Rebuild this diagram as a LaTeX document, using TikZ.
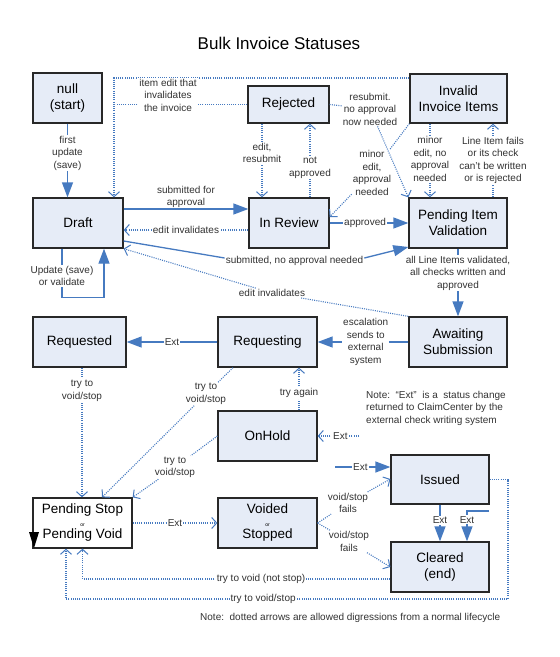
\documentclass[tikz,border=0pt]{standalone}
\usepackage{fontspec}
\setmainfont{Liberation Sans}
\usetikzlibrary{arrows.meta}
\definecolor{boxfill}{RGB}{230,236,247}
\definecolor{boxline}{RGB}{40,40,40}
\definecolor{flow}{RGB}{70,122,192}
\definecolor{lbltext}{RGB}{50,50,50}
\begin{document}
\begin{tikzpicture}[x=1pt,y=-1pt,
  state/.style={draw=boxline, fill=boxfill, line width=1.3pt, inner sep=0pt, align=center, font=\fontsize{13.5}{16}\selectfont},
  lbl/.style={font=\fontsize{10}{12.5}\selectfont, text=lbltext, align=center, inner sep=1pt, fill=white},
  solidarrow/.style={draw=flow, line width=1.3pt, -{Triangle[length=15pt,width=11pt]}},
  dotarrow/.style={draw=flow, line width=1.1pt, dash pattern=on 1pt off 1.2pt, -{Straight Barb[length=5pt,width=11pt,line width=1pt]}},
  dotline/.style={draw=flow, line width=1.1pt, dash pattern=on 1pt off 1.2pt},
]
\useasboundingbox (0,0) rectangle (560,657);

\node[font=\fontsize{17}{20}\selectfont] (title) at (279,43) {Bulk Invoice Statuses};

% states
\node[state, minimum width=69pt, minimum height=50pt] (null) at (67.5,98) {null\\(start)};
\node[state, minimum width=90pt, minimum height=50pt] (draft) at (78,223) {Draft};
\node[state, minimum width=81pt, minimum height=37pt] (rejected) at (288.5,104.5) {Rejected};
\node[state, minimum width=97pt, minimum height=49pt] (invalid) at (458.5,98.5) {Invalid\\Invoice Items};
\node[state, minimum width=80pt, minimum height=50pt] (review) at (289,223) {In Review};
\node[state, minimum width=98pt, minimum height=50pt] (piv) at (458,223) {Pending Item\\Validation};
\node[state, minimum width=98pt, minimum height=50pt] (await) at (458,342) {Awaiting\\Submission};
\node[state, minimum width=99pt, minimum height=50pt] (requesting) at (267.5,342) {Requesting};
\node[state, minimum width=93pt, minimum height=50pt] (requested) at (79.5,342) {Requested};
\node[state, minimum width=99pt, minimum height=50pt] (onhold) at (267.5,436) {OnHold};
\node[state, fill=white, minimum width=99pt, minimum height=50pt, font=\fontsize{13.5}{12.5}\selectfont] (pstop) at (82.5,523) {Pending Stop\\{\fontsize{5}{6}\selectfont or}\\Pending Void};
\node[state, minimum width=99pt, minimum height=50pt, font=\fontsize{13.5}{12.5}\selectfont] (voided) at (267.5,523) {Voided\\{\fontsize{5}{6}\selectfont or}\\Stopped};
\node[state, minimum width=98pt, minimum height=49pt] (issued) at (440,479.5) {Issued};
\node[state, minimum width=98pt, minimum height=50pt] (cleared) at (440,567) {Cleared\\(end)};

\fill[black] (29,532) -- (39,532) -- (34,548) -- cycle;

% waypoint labels
\node[lbl] (lblrs) at (370,109) {resubmit.\\no approval\\now needed};
\node[lbl] (lblme) at (372,173) {minor\\edit,\\approval\\needed};
\node[lbl] (lblsn) at (294.5,261) {submitted, no approval needed};
\node[lbl] (lblei) at (272,293) {edit invalidates};
\node[lbl] (lblr2) at (206,394) {try to\\void/stop};
\node[lbl] (lblo2) at (175,467.5) {try to\\void/stop};
\node[lbl] (lblv1) at (348,503) {void/stop\\fails};
\node[lbl] (lblv2) at (349,541.5) {void/stop\\fails};

% coordinates
\coordinate (ie) at ([xshift=36pt]draft.north);
\coordinate (a1) at ([xshift=-26.5pt]rejected.south);
\coordinate (a2) at ([xshift=21pt]review.north);
\coordinate (a3) at ([xshift=-28.5pt]invalid.south);
\coordinate (a4) at ([xshift=35pt]piv.north);
\coordinate (a5) at ([yshift=14pt]draft.east);
\coordinate (a6) at ([yshift=-7pt]review.west);
\coordinate (a7) at ([xshift=2.5pt]requested.south);
\coordinate (a8) at ([xshift=31.5pt]onhold.north);
\coordinate (revin) at ([yshift=6pt]review.east);
\coordinate (e1) at (359,436);
\coordinate (e2) at (335,467);
\coordinate (e3) at (489,511);
\coordinate (c1) at (508,599);
\coordinate (c2) at ([xshift=-16.5pt]pstop.south);

% solid connectors
\draw[solidarrow] (null.south) -- node[lbl,pos=0.4]{first\\update\\(save)} (null.south |- draft.north);
\draw[solidarrow] (a5) -- node[lbl,fill=none,above,inner sep=0.5pt]{submitted for\\approval} (a5 -| review.west);
\draw[solidarrow] ([yshift=-18pt]draft.east) -- ([yshift=3pt]lblsn.west) ([yshift=3pt]lblsn.east) -- ([yshift=-24pt]piv.west);
\draw[solidarrow] (review.east) -- node[lbl,pos=0.45]{approved} (piv.west);
\draw[solidarrow] (piv.south) -- node[lbl,pos=0.36]{all Line Items validated,\\all checks written and\\approved} (await.north);
\draw[solidarrow] (await.west) -- node[lbl,pos=0.47]{escalation\\sends to\\external\\system} (requesting.east);
\draw[solidarrow] (requesting.west) -- node[lbl]{Ext} (requested.east);
\draw[solidarrow] (e2) -- node[lbl,pos=0.46]{Ext} (e2 -| issued.west);
\draw[solidarrow] (issued.south) -- node[lbl,pos=0.42]{Ext} (cleared.north);
\draw[solidarrow] (e3) -| node[lbl,pos=0.645]{Ext} ([xshift=27pt]cleared.north);
\draw[solidarrow] ([xshift=-16pt]draft.south) -- node[lbl,pos=0.56]{Update (save)\\or validate} ++(0,49) -| ([xshift=26pt]draft.south);

% dotted connectors
\draw[dotarrow] ([yshift=20.5pt]invalid.west) -| (ie);
\draw[dotline] (rejected.west) -- (rejected.west -| ie);
\node[lbl] (lblie) at (168,95) {item edit that\\invalidates\\the invoice};
\draw[dotarrow] (a1) -- node[lbl,pos=0.4]{edit,\\resubmit} (a1 |- review.north);
\draw[dotarrow] (a2) -- node[lbl,pos=0.4]{not\\approved} (a2 |- rejected.south);
\draw[dotarrow] (rejected.east) -- (lblrs) -- (piv.north west);
\draw[dotarrow] (invalid.south west) -- (lblme) -- (revin);
\draw[dotarrow] (a3) -- node[lbl,pos=0.48]{minor\\edit, no\\approval\\needed} (a3 |- piv.north);
\draw[dotarrow] (a4) -- node[lbl,pos=0.5]{Line Item fails\\or its check\\can't be written\\or is rejected} (a4 |- invalid.south);
\draw[dotarrow] (a6) -- node[lbl]{edit invalidates} (a6 -| draft.east);
\draw[dotarrow] (await.north west) -- (lblei) -- (draft.south east);
\draw[dotarrow] (a7) -- node[lbl,pos=0.18]{try to\\void/stop} (a7 |- pstop.north);
\draw[dotarrow] ([xshift=-34.5pt]requesting.south) -- (lblr2) -- ([xshift=19.5pt]pstop.north);
\draw[dotarrow] (onhold.west) -- (lblo2) -- (pstop.north east);
\draw[dotarrow] (a8) -- node[lbl,pos=0.41]{try again} (a8 |- requesting.south);
\draw[dotarrow] (e1) -- node[lbl,pos=0.45]{Ext} (e1 -| onhold.east);
\draw[dotarrow] (pstop.east) -- node[lbl]{Ext} (voided.west);
\draw[dotarrow] (voided.east) -- (lblv1) -- ([yshift=0.5pt]issued.west);
\draw[dotarrow] (voided.east) -- (lblv2) -- (cleared.west);
\draw[dotarrow] ([yshift=-12pt]cleared.west) -| node[lbl,pos=0.21]{try to void (not stop)} (pstop.south);
\draw[dotarrow] (issued.east) -| (c1) -- node[lbl,pos=0.554]{try to void/stop} (c1 -| c2) -- (c2);

% notes
\node[lbl, fill=none, anchor=west, align=left] (note1) at (365,408) {Note:\ \ “Ext”\ \ is a\ \ status change\\returned to ClaimCenter by the\\external check writing system};
\node[lbl, fill=none, anchor=west] (note2) at (199,618) {Note:\ \ dotted arrows are allowed digressions from a normal lifecycle};
\end{tikzpicture}
\end{document}
